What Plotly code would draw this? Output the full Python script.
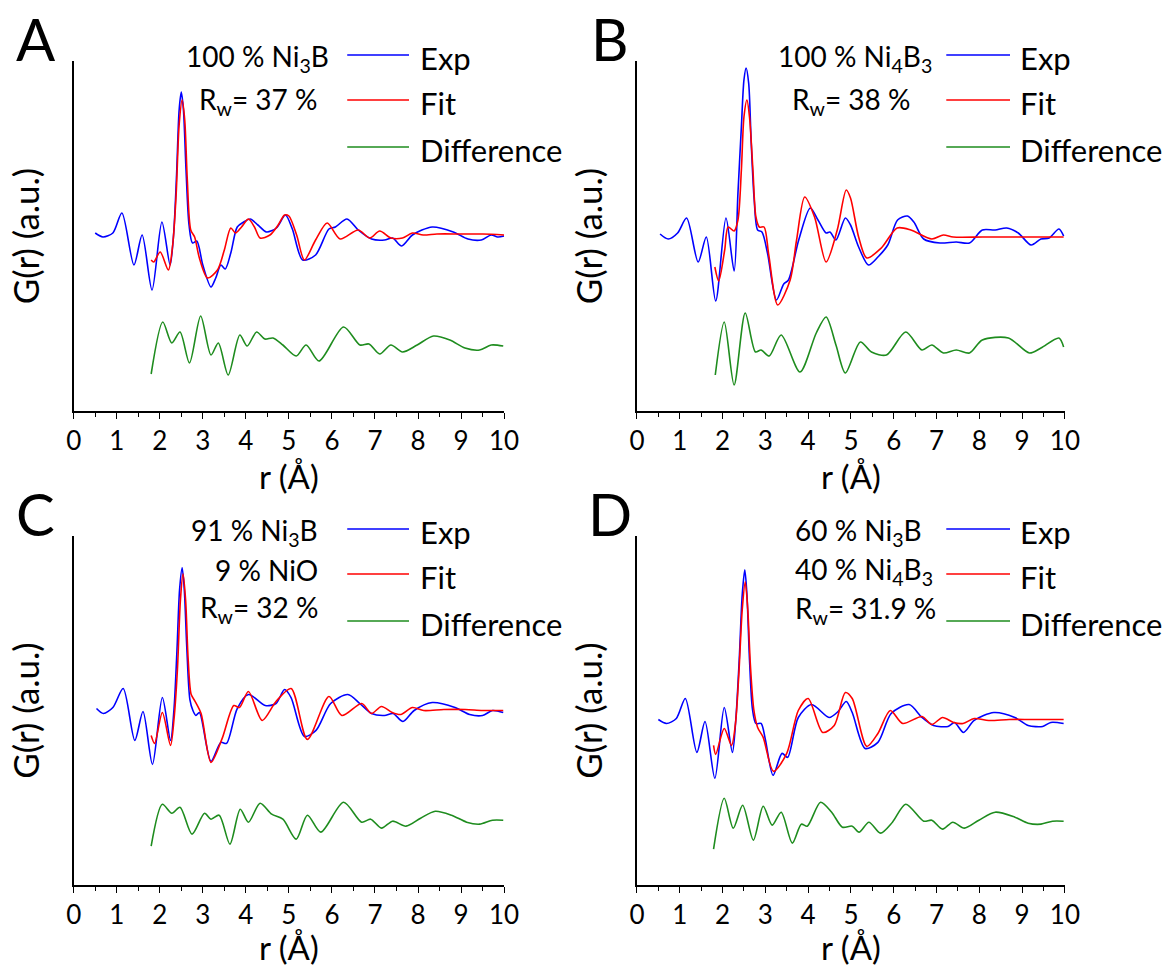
import plotly.graph_objects as go

# ---------------- data (r in Å, G(r) in arbitrary units) ----------------
# Panel A : 100 % Ni3B
A_exp_r = [0.50, 0.68, 0.91, 1.12, 1.40, 1.59, 1.82, 2.05, 2.24, 2.32, 2.39, 2.45, 2.50, 2.55, 2.61, 2.68, 2.76, 2.86, 3.00, 3.19, 3.30, 3.42, 3.52, 3.65, 3.80, 3.95, 4.10, 4.28, 4.48, 4.71, 4.92, 5.08, 5.32, 5.62, 5.93, 6.08, 6.35, 6.61, 6.92, 7.22, 7.41, 7.62, 7.87, 8.33, 8.82, 9.16, 9.47, 9.70, 9.85, 10.0]
A_exp_g = [0.2, -0.2, 0.2, 2.2, -3.0, 0.0, -5.5, 1.3, -3.0, 0.0, 6.0, 12.5, 14.3, 12.5, 6.5, 1.0, -0.8, -0.6, -3.0, -5.2, -4.3, -3.0, -3.4, -1.8, 0.8, 1.3, 1.6, 1.0, 0.3, 0.7, 2.0, 0.6, -2.5, -2.0, 0.6, 0.8, 1.6, 0.5, -0.4, -0.5, -0.3, -1.1, 0.0, 0.8, 0.3, -0.4, -0.5, 0.0, -0.2, -0.1]
A_fit_r = [1.80, 1.86, 2.01, 2.20, 2.30, 2.38, 2.45, 2.52, 2.58, 2.64, 2.72, 2.81, 2.92, 3.11, 3.34, 3.50, 3.65, 3.76, 3.90, 4.06, 4.20, 4.33, 4.56, 4.75, 4.90, 5.00, 5.18, 5.36, 5.62, 5.89, 6.19, 6.61, 6.88, 7.11, 7.37, 7.64, 7.87, 8.12, 8.44, 9.0, 9.5, 10.0]
A_fit_g = [-2.5, -2.7, -1.7, -3.5, -1.0, 4.0, 11.0, 13.5, 11.5, 5.5, 0.5, -0.2, -2.3, -4.3, -3.5, -1.5, 0.7, 0.2, 0.8, 1.6, 0.8, -0.3, 0.0, 1.0, 2.0, 1.9, 0.0, -2.5, -0.5, 1.2, -0.4, 0.5, -0.3, 0.4, -0.3, -0.3, 0.2, 0.0, 0.1, 0.1, 0.1, 0.0]
A_dif_r = [1.80, 2.07, 2.28, 2.47, 2.69, 2.95, 3.19, 3.36, 3.59, 3.86, 4.03, 4.25, 4.44, 4.63, 4.86, 5.17, 5.40, 5.70, 6.27, 6.65, 6.86, 7.11, 7.37, 7.64, 7.98, 8.36, 8.74, 9.09, 9.43, 9.70, 9.98]
A_dif_g = [-13.9, -8.7, -10.8, -9.7, -12.8, -8.1, -12.0, -10.8, -14.0, -10.0, -11.1, -9.7, -10.4, -10.3, -11.0, -12.1, -11.0, -12.6, -9.2, -11.0, -10.9, -11.9, -11.0, -11.7, -11.0, -10.1, -10.5, -11.3, -11.5, -11.0, -11.1]

# Panel B : 100 % Ni4B3
B_exp_r = [0.54, 0.73, 0.95, 1.16, 1.43, 1.62, 1.84, 2.08, 2.27, 2.36, 2.44, 2.50, 2.55, 2.61, 2.67, 2.74, 2.82, 2.92, 3.05, 3.26, 3.43, 3.54, 3.78, 4.05, 4.23, 4.42, 4.51, 4.65, 4.87, 4.99, 5.18, 5.41, 5.63, 5.86, 6.09, 6.32, 6.47, 6.70, 7.08, 7.46, 7.77, 8.07, 8.37, 8.64, 8.91, 9.21, 9.44, 9.63, 9.86, 9.97]
B_exp_g = [0.1, -0.4, 0.2, 1.7, -2.7, -0.2, -6.6, 1.7, -3.6, 4.2, 10.8, 15.5, 16.7, 15.2, 9.2, 3.5, 0.5, 0.3, -1.8, -6.5, -4.9, -4.5, -0.5, 2.7, 1.5, 0.2, 0.3, -0.5, 1.7, 1.0, -1.2, -3.0, -2.2, -1.0, 1.5, 1.9, 1.3, -0.4, -0.8, -0.7, -0.8, 0.5, 0.5, 0.7, 0.2, -1.0, -0.4, -0.3, 0.6, -0.1]
B_fit_r = [1.82, 1.91, 2.05, 2.13, 2.27, 2.36, 2.44, 2.50, 2.57, 2.63, 2.71, 2.78, 2.86, 2.97, 3.08, 3.29, 3.58, 3.73, 3.92, 4.15, 4.42, 4.68, 4.89, 4.99, 5.18, 5.37, 5.71, 6.08, 6.40, 6.89, 7.16, 7.39, 8.07, 8.6, 9.2, 9.97]
B_fit_g = [-3.2, -4.6, -1.5, 0.8, 0.4, 1.5, 6.5, 11.8, 13.5, 11.8, 6.5, 1.8, 0.8, 0.8, -2.0, -7.0, -4.5, -0.5, 3.8, 1.8, -2.7, 0.5, 4.5, 3.7, -0.2, -2.3, -1.3, 0.7, 0.5, -0.4, 0.0, -0.2, -0.2, -0.2, -0.2, -0.2]
B_dif_r = [1.83, 2.04, 2.27, 2.53, 2.77, 2.90, 3.09, 3.37, 3.81, 4.19, 4.42, 4.65, 4.87, 5.22, 5.48, 5.83, 6.28, 6.66, 6.89, 7.16, 7.46, 7.77, 8.07, 8.68, 9.17, 9.44, 9.86, 9.97]
B_dif_g = [-14.0, -8.7, -15.0, -7.8, -11.7, -11.5, -12.1, -10.0, -13.7, -9.8, -8.2, -11.0, -13.8, -10.7, -11.7, -12.0, -9.7, -11.5, -11.0, -11.8, -11.5, -11.8, -10.5, -10.3, -11.8, -11.3, -10.3, -11.2]

# Panel C : 91 % Ni3B + 9 % NiO
C_exp_r = [0.53, 0.69, 0.91, 1.15, 1.42, 1.61, 1.83, 2.06, 2.25, 2.33, 2.40, 2.46, 2.52, 2.57, 2.63, 2.70, 2.77, 2.84, 2.92, 3.19, 3.42, 3.55, 3.80, 4.06, 4.45, 4.70, 4.90, 5.05, 5.36, 5.63, 5.97, 6.37, 6.65, 6.92, 7.22, 7.42, 7.65, 7.91, 8.33, 8.86, 9.20, 9.50, 9.73, 9.98]
C_exp_g = [0.1, -0.4, 0.2, 2.1, -3.1, -0.2, -5.5, 1.2, -3.1, 0.0, 6.0, 12.0, 14.2, 12.0, 6.0, 1.0, -0.1, -0.6, -0.3, -5.2, -3.3, -3.4, 0.1, 1.5, 0.4, 0.6, 2.0, 1.2, -2.7, -2.1, 0.6, 1.5, 0.6, -0.4, -0.6, -0.4, -1.2, -0.1, 0.7, 0.2, -0.5, -0.6, -0.1, -0.3]
C_fit_r = [1.80, 1.88, 2.06, 2.25, 2.33, 2.41, 2.48, 2.54, 2.60, 2.66, 2.73, 2.81, 2.96, 3.19, 3.45, 3.72, 3.85, 4.06, 4.38, 4.70, 5.05, 5.43, 5.93, 6.23, 6.69, 6.92, 7.15, 7.40, 7.60, 7.87, 8.13, 8.6, 9.1, 9.5, 9.98]
C_fit_g = [-2.6, -3.4, -0.3, -3.6, -1.0, 4.0, 11.0, 13.6, 11.0, 5.0, 1.5, 0.9, -0.4, -5.3, -2.9, 0.4, 0.2, 1.8, -1.1, 0.8, 2.1, -3.0, 1.3, -0.6, 0.6, -0.4, 0.3, -0.3, -0.5, 0.2, -0.1, 0.0, 0.0, -0.1, -0.1]
C_dif_r = [1.80, 2.06, 2.28, 2.47, 2.75, 3.04, 3.19, 3.38, 3.63, 3.87, 4.06, 4.33, 4.60, 4.86, 5.17, 5.43, 5.74, 6.27, 6.69, 6.90, 7.15, 7.41, 7.72, 8.06, 8.40, 8.78, 9.13, 9.43, 9.73, 9.98]
C_dif_g = [-13.7, -9.5, -10.4, -9.8, -12.5, -10.4, -11.0, -10.6, -13.5, -10.0, -11.3, -9.4, -10.5, -11.0, -13.0, -10.6, -12.3, -9.3, -11.3, -11.0, -11.9, -11.2, -11.7, -10.9, -10.2, -10.6, -11.3, -11.5, -11.1, -11.1]

# Panel D : 60 % Ni3B + 40 % Ni4B3
D_exp_r = [0.50, 0.69, 0.92, 1.13, 1.40, 1.59, 1.82, 2.04, 2.23, 2.31, 2.39, 2.46, 2.52, 2.57, 2.63, 2.70, 2.78, 2.90, 3.00, 3.18, 3.39, 3.52, 3.77, 4.08, 4.49, 4.70, 4.89, 5.03, 5.33, 5.63, 5.94, 6.36, 6.66, 6.93, 7.27, 7.42, 7.63, 7.88, 8.34, 8.83, 9.14, 9.48, 9.67, 9.97]
D_exp_g = [-1.0, -1.4, -0.9, 1.1, -4.3, -1.2, -6.9, 0.2, -4.3, -1.0, 5.0, 11.5, 14.0, 11.5, 5.0, 0.0, -1.4, -1.4, -3.0, -6.6, -4.4, -4.8, -0.8, 0.5, -0.8, -0.2, 0.8, -0.3, -3.9, -3.3, -0.4, 0.5, -0.8, -1.6, -1.7, -1.3, -2.3, -1.1, -0.3, -0.8, -1.6, -1.7, -1.3, -1.4]
D_fit_r = [1.79, 1.84, 2.04, 2.21, 2.30, 2.38, 2.46, 2.53, 2.59, 2.65, 2.73, 2.82, 2.95, 3.19, 3.50, 3.77, 4.00, 4.34, 4.61, 4.87, 5.03, 5.37, 5.63, 5.92, 6.21, 6.66, 6.89, 7.14, 7.40, 7.62, 7.88, 8.22, 8.7, 9.2, 9.6, 9.97]
D_fit_g = [-3.6, -4.5, -1.9, -3.6, -1.5, 3.5, 10.0, 12.8, 10.0, 4.5, 0.0, -1.8, -2.8, -6.2, -4.4, -0.1, 1.1, -2.3, -1.6, 1.7, 1.1, -3.7, -2.4, -0.1, -1.4, -0.7, -1.5, -0.8, -1.3, -1.4, -0.9, -1.1, -1.0, -1.0, -1.0, -1.0]
D_dif_r = [1.79, 2.04, 2.25, 2.47, 2.72, 2.95, 3.16, 3.37, 3.63, 3.84, 3.98, 4.29, 4.55, 4.80, 5.03, 5.19, 5.42, 5.69, 5.97, 6.28, 6.70, 6.89, 7.14, 7.38, 7.65, 7.99, 8.37, 8.83, 9.14, 9.44, 9.71, 9.97]
D_dif_g = [-14.0, -8.9, -11.9, -9.6, -13.1, -9.7, -11.6, -10.3, -13.4, -11.5, -11.7, -9.3, -10.3, -11.8, -11.7, -12.3, -11.3, -12.4, -11.3, -9.5, -11.2, -11.1, -12.0, -11.3, -11.9, -11.1, -10.3, -10.8, -11.4, -11.5, -11.2, -11.2]

x_ticks = [0, 1, 2, 3, 4, 5, 6, 7, 8, 9, 10]
series_names = ["Exp", "Fit", "Difference"]
series_colors = ["#0000FF", "#FF0000", "#1E8C1E"]

panel_letters = ["A", "B", "C", "D"]
panel_notes = [
    ["100 % Ni<sub>3</sub>B", "R<sub>w</sub>= 37 %"],
    ["100 % Ni<sub>4</sub>B<sub>3</sub>", "R<sub>w</sub>= 38 %"],
    ["91 % Ni<sub>3</sub>B", "9 % NiO", "R<sub>w</sub>= 32 %"],
    ["60 % Ni<sub>3</sub>B", "40 % Ni<sub>4</sub>B<sub>3</sub>", "R<sub>w</sub>= 31.9 %"],
]

panel_data = [
    [(A_exp_r, A_exp_g), (A_fit_r, A_fit_g), (A_dif_r, A_dif_g)],
    [(B_exp_r, B_exp_g), (B_fit_r, B_fit_g), (B_dif_r, B_dif_g)],
    [(C_exp_r, C_exp_g), (C_fit_r, C_fit_g), (C_dif_r, C_dif_g)],
    [(D_exp_r, D_exp_g), (D_fit_r, D_fit_g), (D_dif_r, D_dif_g)],
]

# ---------------- layout ----------------
W, H = 1176, 967
FONT = "Lato"


def px(x):
    return x / W


def py(y):
    return 1 - y / H


# axis boxes in pixels: (left, right, top, bottom)
boxes = [(67, 506, 61, 411), (641.5, 1078, 61, 411),
         (67, 506, 536, 885), (641.5, 1078, 536, 885)]

fig = go.Figure()
layout = dict(
    width=W, height=H,
    margin=dict(l=0, r=0, t=0, b=0),
    paper_bgcolor="white", plot_bgcolor="white",
    showlegend=False,
    font=dict(family=FONT, color="black", size=28),
)

annotations = []
shapes = []

for i in range(4):
    xa = "xaxis" if i == 0 else f"xaxis{i+1}"
    ya = "yaxis" if i == 0 else f"yaxis{i+1}"
    xr = "x" if i == 0 else f"x{i+1}"
    yr = "y" if i == 0 else f"y{i+1}"
    l, r, t, b = boxes[i]
    layout[xa] = dict(
        domain=[px(l), px(r)], anchor=yr, range=[0, 10],
        tickmode="array", tickvals=x_ticks, ticktext=[str(v) for v in x_ticks],
        showline=True, linecolor="black", linewidth=1.5,
        ticks="outside", ticklen=6, tickwidth=1.3, tickcolor="black",
        minor=dict(ticks="outside", ticklen=4, tickwidth=1.3, tickcolor="black", dtick=0.5, tick0=0),
        showgrid=False, zeroline=False,
        tickfont=dict(family=FONT, size=26, color="black"),
        title=dict(text="r (Å)", font=dict(family=FONT, size=33, color="black"), standoff=7),
    )
    layout[ya] = dict(
        domain=[py(b), py(t)], anchor=xr, range=[-17.6, 17.4],
        showline=True, linecolor="black", linewidth=1.5,
        ticks="", showticklabels=False, showgrid=False, zeroline=False,
        title=dict(text="G(r) (a.u.)", font=dict(family=FONT, size=35, color="black"), standoff=22),
    )
    for (rv, gv), name, col in zip(panel_data[i], series_names, series_colors):
        fig.add_trace(go.Scatter(
            x=rv, y=gv, mode="lines", name=name,
            line=dict(color=col, width=1.6, shape="spline", smoothing=0.8),
            xaxis=xr, yaxis=yr, showlegend=False,
        ))

    left_col = i % 2 == 0
    top_row = i < 2

    # panel letter
    annotations.append(dict(
        text=panel_letters[i], xref="paper", yref="paper",
        x=px(l - (38.5 if left_col else 27)), y=py(t - 23),
        xanchor="center", yanchor="middle",
        showarrow=False, font=dict(family=FONT, size=58, color="black"),
    ))

    # legend (line samples + labels)
    base_y = 0 if top_row else 474
    ly = [55 + base_y, 100 + base_y, 147 + base_y]
    if left_col:
        lx0, lx1, tx = 346, 409, 418
    else:
        lx0, lx1, tx = 957, 1022, 1030
    for k in range(3):
        shapes.append(dict(
            type="line", xref="paper", yref="paper",
            x0=px(lx0), x1=px(lx1), y0=py(ly[k]), y1=py(ly[k]),
            line=dict(color=series_colors[k], width=1.6),
        ))
        annotations.append(dict(
            text=series_names[k], xref="paper", yref="paper",
            x=px(tx), y=py(ly[k] + 3), xanchor="left", yanchor="middle",
            showarrow=False, font=dict(family=FONT, size=31, color="black"),
        ))

    # composition / Rw notes
    notes = panel_notes[i]
    if i == 0:
        pos = [(254, 58, "center"), (255, 101, "center")]
    elif i == 1:
        pos = [(864, 58, "center"), (860, 101, "center")]
    elif i == 2:
        pos = [(318, 532, "right"), (318, 570, "right"), (318, 609, "right")]
    else:
        pos = [(801, 532, "left"), (801, 571, "left"), (801, 610, "left")]
    for txt, (nx, ny, anc) in zip(notes, pos):
        annotations.append(dict(
            text=txt, xref="paper", yref="paper",
            x=px(nx), y=py(ny), xanchor=anc, yanchor="middle",
            showarrow=False, font=dict(family=FONT, size=28, color="black"),
        ))

layout["annotations"] = annotations
layout["shapes"] = shapes
fig.update_layout(**layout)
fig.write_html("out.html")
